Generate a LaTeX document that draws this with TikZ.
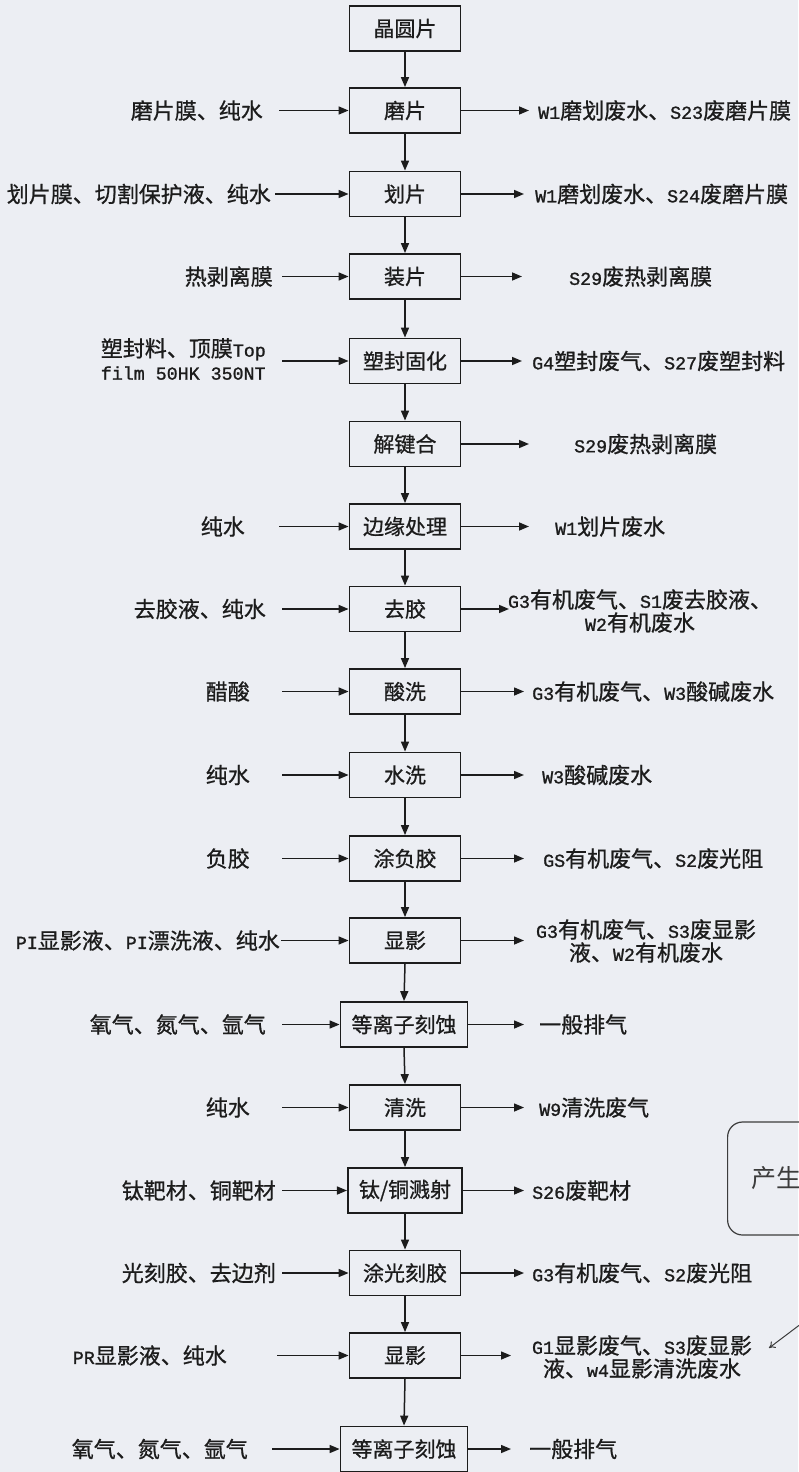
\documentclass[tikz,border=0pt]{standalone}
\usepackage{fontspec}
\setmainfont{Noto Sans CJK SC}[FakeBold=0.8]
\newfontfamily\monof{Liberation Mono}[FakeBold=1.2]
\newfontfamily\notefont{Noto Sans CJK SC}
\usetikzlibrary{arrows.meta}
\definecolor{bg}{RGB}{236,238,243}
\definecolor{ink}{RGB}{28,28,28}
\definecolor{soft}{RGB}{60,60,60}
\newcommand{\lat}[1]{{\monof\fontsize{18.3}{23}\selectfont #1}}
\begin{document}
\begin{tikzpicture}[x=1pt,y=-1pt,
  proc/.style={draw=ink, line width=1.8pt, minimum width=111pt, minimum height=45pt,
    inner xsep=11pt, inner ysep=0pt, font=\fontsize{21}{25}\selectfont, text=ink},
  lab/.style={inner sep=0pt, font=\fontsize{22}{23}\selectfont, text=ink},
  flow/.style={draw=ink, line width=1.5pt, -{Triangle[length=10pt,width=8pt]}},
  thin/.style={draw=soft, line width=1pt, -{To[length=6pt,width=8pt]}},
]
\fill[bg] (0,0) rectangle (798,1472);
\useasboundingbox (0,0) rectangle (798,1472);

% main column
\node[proc] (p1)  at (405,28.5)   {晶圆片};
\node[proc] (p2)  at (405,110.5)  {磨片};
\node[proc] (p3)  at (405,194)    {划片};
\node[proc] (p4)  at (405,276.5)  {装片};
\node[proc] (p5)  at (405,361)    {塑封固化};
\node[proc] (p6)  at (405,444)    {解键合};
\node[proc] (p7)  at (405,526.5)  {边缘处理};
\node[proc] (p8)  at (405,609)    {去胶};
\node[proc] (p9)  at (405,691.5)  {酸洗};
\node[proc] (p10) at (405,775)    {水洗};
\node[proc] (p11) at (405,858.5)  {涂负胶};
\node[proc] (p12) at (405,940.5)  {显影};
\node[proc] (p13) at (404,1024.5) {等离子刻蚀};
\node[proc] (p14) at (405,1107.5) {清洗};
\node[proc] (p15) at (405,1190.5) {钛/铜溅射};
\node[proc] (p16) at (405,1273)   {涂光刻胶};
\node[proc] (p17) at (405,1355.5) {显影};
\node[proc] (p18) at (404,1449)   {等离子刻蚀};

\foreach \a/\b in {p1/p2,p2/p3,p3/p4,p4/p5,p5/p6,p6/p7,p7/p8,p8/p9,p9/p10,
  p10/p11,p11/p12,p12/p13,p13/p14,p14/p15,p15/p16,p16/p17,p17/p18}
  \draw[flow] (\a.south) -- (\b.north);

% left inputs
\node[lab,anchor=east] (a2)  at (263,110.5)  {磨片膜、纯水};
\node[lab,anchor=east] (a3)  at (271,194)    {划片膜、切割保护液、纯水};
\node[lab,anchor=east] (a4)  at (273,276.5)  {热剥离膜};
\node[lab,anchor=east,align=left] (a5) at (266,359) {塑封料、顶膜\lat{Top}\\\lat{film 50HK 350NT}};
\node[lab,anchor=east] (a7)  at (245,526.5)  {纯水};
\node[lab,anchor=east] (a8)  at (266,609)    {去胶液、纯水};
\node[lab,anchor=east] (a9)  at (250,691.5)  {醋酸};
\node[lab,anchor=east] (a10) at (250,775)    {纯水};
\node[lab,anchor=east] (a11) at (250,858.5)  {负胶};
\node[lab,anchor=east] (a12) at (280,940.5)  {\lat{PI}显影液、\lat{PI}漂洗液、纯水};
\node[lab,anchor=east] (a13) at (266,1024.5) {氧气、氮气、氩气};
\node[lab,anchor=east] (a14) at (250,1107.5) {纯水};
\node[lab,anchor=east] (a15) at (276,1190.5) {钛靶材、铜靶材};
\node[lab,anchor=east] (a16) at (276,1273)   {光刻胶、去边剂};
\node[lab,anchor=east] (a17) at (227,1355.5) {\lat{PR}显影液、纯水};
\node[lab,anchor=east] (a18) at (248,1449)   {氧气、氮气、氩气};

\coordinate (l2)  at (279,110.5);
\coordinate (l3)  at (275,194);
\coordinate (l4)  at (282,276.5);
\coordinate (l5)  at (282,361);
\coordinate (l7)  at (279,526.5);
\coordinate (l8)  at (282,609);
\coordinate (l9)  at (282,691.5);
\coordinate (l10) at (282,775);
\coordinate (l11) at (282,858.5);
\coordinate (l12) at (281,940.5);
\coordinate (l13) at (282,1024.5);
\coordinate (l14) at (282,1107.5);
\coordinate (l15) at (282,1190.5);
\coordinate (l16) at (282,1273);
\coordinate (l17) at (277,1355.5);
\coordinate (l18) at (272,1449);
\foreach \i in {2,3,4,5,7,8,9,10,11,12,13,14,15,16,17,18}
  \draw[flow] (l\i) -- (p\i.west);

% right outputs
\node[lab,anchor=west] (b2)  at (538,110.5)  {\lat{W1}磨划废水、\lat{S23}废磨片膜};
\node[lab,anchor=west] (b3)  at (535,194)    {\lat{W1}磨划废水、\lat{S24}废磨片膜};
\node[lab,anchor=west] (b4)  at (569,276.5)  {\lat{S29}废热剥离膜};
\node[lab,anchor=west] (b5)  at (532,361)    {\lat{G4}塑封废气、\lat{S27}废塑封料};
\node[lab,anchor=west] (b6)  at (574,444)    {\lat{S29}废热剥离膜};
\node[lab,anchor=west] (b7)  at (555,526.5)  {\lat{W1}划片废水};
\node[lab,align=center] (b8) at (640,611)    {\lat{G3}有机废气、\lat{S1}废去胶液、\\\lat{W2}有机废水};
\node[lab,anchor=west] (b9)  at (532,691.5)  {\lat{G3}有机废气、\lat{W3}酸碱废水};
\node[lab,anchor=west] (b10) at (542,775)    {\lat{W3}酸碱废水};
\node[lab,anchor=west] (b11) at (543,858.5)  {\lat{GS}有机废气、\lat{S2}废光阻};
\node[lab,align=center] (b12) at (646,941)   {\lat{G3}有机废气、\lat{S3}废显影\\液、\lat{W2}有机废水};
\node[lab,anchor=west] (b13) at (539,1024.5) {一般排气};
\node[lab,anchor=west] (b14) at (539,1107.5) {\lat{W9}清洗废气};
\node[lab,anchor=west] (b15) at (532,1190.5) {\lat{S26}废靶材};
\node[lab,anchor=west] (b16) at (532,1273)   {\lat{G3}有机废气、\lat{S2}废光阻};
\node[lab,align=center] (b17) at (642,1357)  {\lat{G1}显影废气、\lat{S3}废显影\\液、\lat{w4}显影清洗废水};
\node[lab,anchor=west] (b18) at (529,1449)   {一般排气};

\coordinate (r2)  at (529,110.5);
\coordinate (r3)  at (524,194);
\coordinate (r4)  at (522,276.5);
\coordinate (r5)  at (522,361);
\coordinate (r6)  at (529,444);
\coordinate (r7)  at (529,526.5);
\coordinate (r8)  at (509,609);
\coordinate (r9)  at (524,691.5);
\coordinate (r10) at (524,775);
\coordinate (r11) at (524,858.5);
\coordinate (r12) at (524,940.5);
\coordinate (r13) at (524,1024.5);
\coordinate (r14) at (524,1107.5);
\coordinate (r15) at (524,1190.5);
\coordinate (r16) at (524,1273);
\coordinate (r17) at (511,1355.5);
\coordinate (r18) at (511,1449);
\foreach \i in {2,3,4,5,6,7,8,9,10,11,12,13,14,15,16,17,18}
  \draw[flow] (p\i.east) -- (r\i);

% partial note box at right edge (cut off by the page edge, as in the reference)
\node[draw=soft, line width=1.2pt, rounded corners=15pt, anchor=west,
  minimum height=113pt, text width=100pt, inner xsep=24pt, align=left,
  text=soft, font=\notefont\fontsize{25}{28}\selectfont] (note) at (727,1178.5) {产生};
\coordinate (nt) at (830,1302);
\coordinate (tip) at (769,1348);
\draw[thin] (nt) -- (tip);
\end{tikzpicture}
\end{document}
